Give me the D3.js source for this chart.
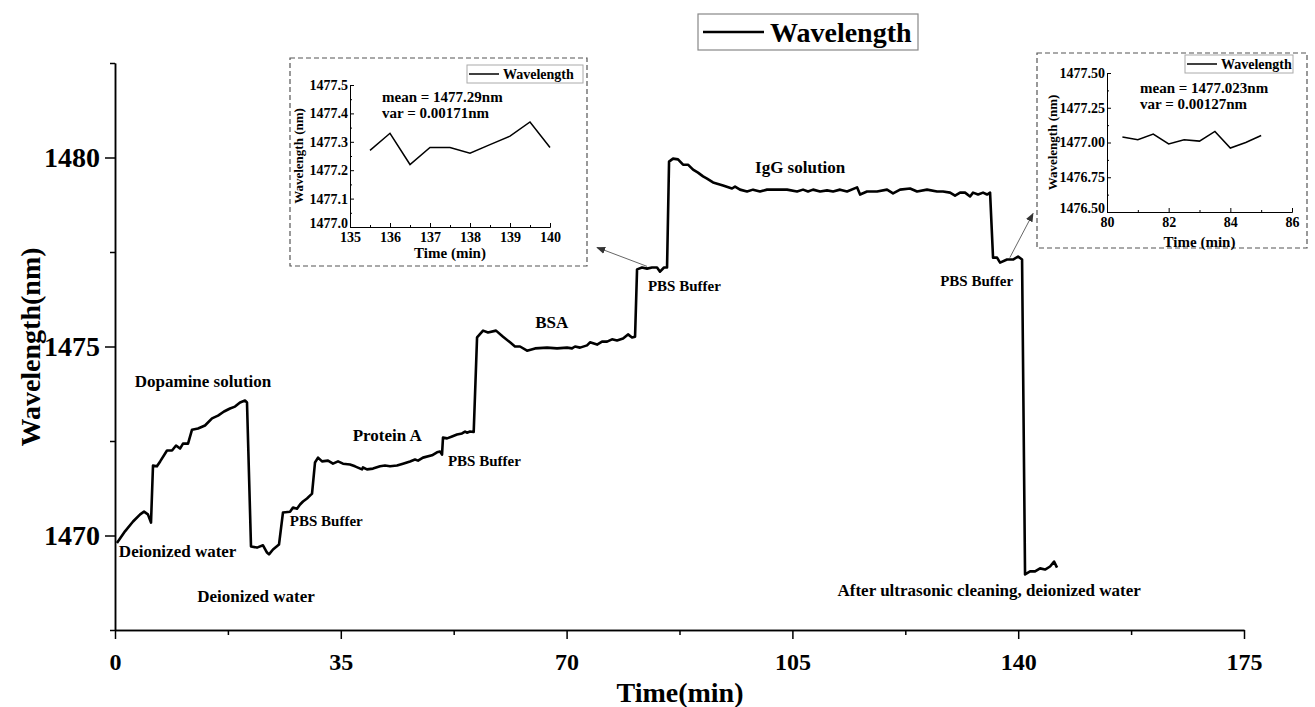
<!DOCTYPE html>
<html>
<head>
<meta charset="utf-8">
<script src="https://cdn.jsdelivr.net/npm/d3@7"></script>
<style>
body { margin: 0; background: #fff; }
text { font-family: "Liberation Serif", "Times New Roman", serif; font-weight: bold; fill: #000; }
</style>
</head>
<body>
<svg id="chart" width="1315" height="707"></svg>
<script>
// main trace: [time (min), wavelength (nm)]
var mainSeries = [
  [0.3,1469.80],[1.55,1470.11],[2.8,1470.37],[3.9,1470.56],[4.5,1470.63],[5.1,1470.56],[5.58,1470.34],
  [5.89,1471.85],[6.5,1471.83],[7.0,1471.96],[8.06,1472.25],[8.84,1472.25],[9.46,1472.38],[10.08,1472.30],
  [10.54,1472.43],[11.32,1472.43],[11.94,1472.80],[12.87,1472.83],[13.95,1472.91],[15.04,1473.10],
  [15.97,1473.17],[16.9,1473.28],[17.83,1473.36],[18.6,1473.41],[19.38,1473.52],[20.15,1473.57],[20.46,1473.52],
  [21.08,1469.71],[22.01,1469.68],[22.94,1469.74],[23.56,1469.55],[23.87,1469.50],[24.49,1469.63],[25.42,1469.76],
  [26.04,1470.61],[27.13,1470.63],[27.59,1470.74],[28.21,1470.71],[28.68,1470.82],[29.14,1470.90],[29.76,1470.98],
  [30.38,1471.08],[30.54,1471.11],[31.0,1471.93],[31.47,1472.06],[32.09,1471.96],[33.02,1471.98],[33.79,1471.90],
  [34.57,1471.96],[35.34,1471.90],[36.43,1471.88],[37.2,1471.83],[38.29,1471.75],[38.44,1471.80],[39.06,1471.75],
  [39.99,1471.77],[41.08,1471.83],[41.85,1471.85],[42.63,1471.83],[43.71,1471.85],[44.64,1471.90],[45.73,1471.96],
  [46.5,1472.01],[46.97,1471.98],[47.74,1472.06],[49.14,1472.12],[49.91,1472.20],[50.38,1472.22],[50.69,1472.14],
  [50.84,1472.59],[51.47,1472.57],[52.24,1472.62],[53.01,1472.67],[53.79,1472.70],[54.26,1472.75],[54.56,1472.72],
  [55.03,1472.75],[55.6,1472.74],[56.12,1475.24],[57.05,1475.42],[57.82,1475.37],[59.06,1475.42],[60.15,1475.26],
  [61.23,1475.11],[62.0,1475.00],[62.78,1475.00],[63.87,1474.89],[65.11,1474.95],[66.97,1474.97],[68.52,1474.95],
  [70.07,1474.97],[70.84,1474.95],[71.31,1475.00],[72.08,1474.97],[73.17,1475.03],[73.63,1475.11],[74.72,1475.05],
  [75.49,1475.13],[76.27,1475.13],[77.04,1475.19],[77.82,1475.16],[78.75,1475.21],[79.52,1475.32],[80.14,1475.24],
  [80.61,1475.26],[80.92,1477.04],[81.69,1477.09],[82.47,1477.06],[83.24,1477.09],[84.02,1477.09],[84.48,1476.98],
  [85.1,1477.09],[85.57,1477.09],[85.88,1479.89],[86.5,1479.97],[87.27,1479.95],[88.05,1479.81],[88.82,1479.81],
  [89.6,1479.68],[90.37,1479.60],[91.15,1479.50],[91.77,1479.44],[92.7,1479.34],[94.25,1479.26],[95.64,1479.18],
  [96.11,1479.23],[96.88,1479.15],[97.97,1479.10],[98.9,1479.15],[99.98,1479.10],[101.07,1479.15],[102.62,1479.15],
  [104.17,1479.15],[105.72,1479.10],[106.65,1479.15],[107.42,1479.10],[108.2,1479.15],[109.29,1479.10],
  [110.37,1479.13],[111.3,1479.10],[112.39,1479.15],[113.47,1479.10],[115.02,1479.21],[115.49,1479.02],
  [116.57,1479.10],[118.12,1479.10],[119.67,1479.15],[120.6,1479.05],[121.69,1479.15],[123.24,1479.18],
  [124.32,1479.10],[125.87,1479.15],[127.42,1479.10],[128.35,1479.10],[129.44,1479.07],[130.21,1478.99],
  [130.99,1479.07],[131.76,1479.07],[132.54,1478.97],[133.0,1479.07],[133.78,1479.02],[134.55,1479.07],
  [135.17,1479.02],[135.64,1479.07],[136.1,1477.35],[136.72,1477.35],[137.19,1477.22],[138.27,1477.30],
  [139.2,1477.30],[139.98,1477.38],[140.6,1477.30],[141.06,1468.97],[141.84,1469.05],[142.61,1469.05],
  [143.39,1469.13],[144.16,1469.10],[144.94,1469.18],[145.56,1469.31],[146.02,1469.15]
];

var xTicks = [0, 35, 70, 105, 140, 175];
var xMinor = [17.5, 52.5, 87.5, 122.5, 157.5];
var yTicks = [1470, 1475, 1480];
var yMinor = [1467.5, 1472.5, 1477.5, 1482.5];

// stage labels, placed in data units
var stageLabels = [
  {t: 13.64, wl: 1473.92, text: "Dopamine solution", size: 17, anchor: "middle"},
  {t: 0.6, wl: 1469.44, text: "Deionized water", size: 17, anchor: "start"},
  {t: 21.86, wl: 1468.23, text: "Deionized water", size: 17, anchor: "middle"},
  {t: 27.1, wl: 1470.26, text: "PBS Buffer", size: 15, anchor: "start"},
  {t: 42.2, wl: 1472.51, text: "Protein A", size: 17, anchor: "middle"},
  {t: 51.6, wl: 1471.85, text: "PBS Buffer", size: 15, anchor: "start"},
  {t: 67.7, wl: 1475.48, text: "BSA", size: 17, anchor: "middle"},
  {t: 82.6, wl: 1476.46, text: "PBS Buffer", size: 15, anchor: "start"},
  {t: 106.2, wl: 1479.60, text: "IgG solution", size: 17, anchor: "middle"},
  {t: 127.9, wl: 1476.59, text: "PBS Buffer", size: 15, anchor: "start"},
  {t: 135.5, wl: 1468.39, text: "After ultrasonic cleaning, deionized water", size: 17, anchor: "middle"}
];

var arrows = [
  {from: [82.47, 1477.12], to: [74.72, 1477.62]},
  {from: [138.7, 1477.35], to: [142.3, 1478.52]}
];

// inset data
var inset1Time = [135.5, 136, 136.5, 137, 137.5, 138, 138.5, 139, 139.5, 140];
var inset1Wl = [1477.27, 1477.33, 1477.22, 1477.28, 1477.28, 1477.26, 1477.29, 1477.32, 1477.37, 1477.28];
var inset1XTicks = [135, 136, 137, 138, 139, 140];
var inset1YTicks = [1477.0, 1477.1, 1477.2, 1477.3, 1477.4, 1477.5];

var inset2Time = [80.5, 81, 81.5, 82, 82.5, 83, 83.5, 84, 84.5, 85];
var inset2Wl = [1477.04, 1477.02, 1477.06, 1476.99, 1477.02, 1477.01, 1477.08, 1476.96, 1477.00, 1477.05];
var inset2XTicks = [80, 82, 84, 86];
var inset2YTicks = [1476.50, 1476.75, 1477.00, 1477.25, 1477.50];

var svg = d3.select("#chart");
svg.append("rect").attr("width", 1315).attr("height", 707).attr("fill", "#fff");

var x = d3.scaleLinear().domain([0, 175]).range([115, 1244]),
    y = d3.scaleLinear().domain([1467.5, 1482.5]).range([630, 63]);

svg.append("defs").append("marker")
    .attr("id", "head")
    .attr("viewBox", "0 0 10 10")
    .attr("refX", 9).attr("refY", 5)
    .attr("markerWidth", 9).attr("markerHeight", 9)
    .attr("markerUnits", "userSpaceOnUse")
    .attr("orient", "auto")
  .append("path")
    .attr("d", "M0,1L10,5L0,9z")
    .attr("fill", "#333");

function styleAxis(g, w) {
  g.selectAll("path, line").attr("stroke", "#000").attr("stroke-width", w);
  g.selectAll("text").attr("fill", "#000");
}

// x axis
var gx = svg.append("g")
    .attr("transform", "translate(0,630)")
    .call(d3.axisBottom(x).tickValues(xTicks).tickSize(9).tickSizeOuter(0).tickPadding(14)
      .tickFormat(d3.format("d")));
gx.selectAll("text").style("font-size", "24px").attr("font-family", null);
svg.append("g")
    .attr("transform", "translate(0,630)")
    .call(d3.axisBottom(x).tickValues(xMinor).tickSize(5).tickSizeOuter(0).tickFormat(""))
    .call(styleAxis, 1.5);
styleAxis(gx, 1.5);

// y axis
var gy = svg.append("g")
    .attr("transform", "translate(115,0)")
    .call(d3.axisLeft(y).tickValues(yTicks).tickSize(10).tickSizeOuter(0).tickPadding(5)
      .tickFormat(d3.format("d")));
gy.selectAll("text").style("font-size", "28px").attr("font-family", null);
svg.append("g")
    .attr("transform", "translate(115,0)")
    .call(d3.axisLeft(y).tickValues(yMinor).tickSize(5).tickSizeOuter(0).tickFormat(""))
    .call(styleAxis, 1.5);
styleAxis(gy, 1.5);

svg.append("text")
    .attr("x", 680).attr("y", 702)
    .attr("text-anchor", "middle")
    .style("font-size", "28px")
    .text("Time(min)");

svg.append("text")
    .attr("transform", "translate(40,347) rotate(-90)")
    .attr("text-anchor", "middle")
    .style("font-size", "28px")
    .text("Wavelength(nm)");

// main trace
var line = d3.line()
    .x(function(d) { return x(d[0]); })
    .y(function(d) { return y(d[1]); });

svg.append("path")
    .datum(mainSeries)
    .attr("d", line)
    .attr("fill", "none")
    .attr("stroke", "#000")
    .attr("stroke-width", 2.6)
    .attr("stroke-linejoin", "round");

svg.selectAll(".stage")
    .data(stageLabels)
  .enter().append("text")
    .attr("class", "stage")
    .attr("x", function(d) { return x(d.t); })
    .attr("y", function(d) { return y(d.wl); })
    .attr("text-anchor", function(d) { return d.anchor; })
    .style("font-size", function(d) { return d.size + "px"; })
    .text(function(d) { return d.text; });

svg.selectAll(".arrow")
    .data(arrows)
  .enter().append("line")
    .attr("class", "arrow")
    .attr("x1", function(d) { return x(d.from[0]); })
    .attr("y1", function(d) { return y(d.from[1]); })
    .attr("x2", function(d) { return x(d.to[0]); })
    .attr("y2", function(d) { return y(d.to[1]); })
    .attr("stroke", "#555")
    .attr("stroke-width", 0.9)
    .attr("marker-end", "url(#head)");

// legend
svg.append("rect")
    .attr("x", 698).attr("y", 14).attr("width", 220).attr("height", 36)
    .attr("fill", "#fff").attr("stroke", "#888").attr("stroke-width", 1.2);
svg.append("line")
    .attr("x1", 703).attr("x2", 764).attr("y1", 32).attr("y2", 32)
    .attr("stroke", "#000").attr("stroke-width", 2.6);
svg.append("text")
    .attr("x", 770).attr("y", 42)
    .style("font-size", "28px")
    .text("Wavelength");

// insets
function drawInset(o) {
  var g = svg.append("g");
  g.append("rect")
      .attr("x", o.box[0]).attr("y", o.box[1]).attr("width", o.box[2]).attr("height", o.box[3])
      .attr("fill", "#fff").attr("stroke", "#555").attr("stroke-width", 1.2)
      .attr("stroke-dasharray", "5,3");

  var ix = d3.scaleLinear().domain(o.xDomain).range(o.xRange),
      iy = d3.scaleLinear().domain(o.yDomain).range(o.yRange);

  var ax = g.append("g")
      .attr("transform", "translate(0," + o.yRange[0] + ")")
      .call(d3.axisBottom(ix).tickValues(o.xTicks).tickSize(-4).tickSizeOuter(0).tickPadding(5)
        .tickFormat(d3.format("d")));
  g.append("g")
      .attr("transform", "translate(0," + o.yRange[0] + ")")
      .call(d3.axisBottom(ix).tickValues(o.xMinor).tickSize(-2).tickSizeOuter(0).tickFormat(""))
      .call(styleAxis, 1);
  var ay = g.append("g")
      .attr("transform", "translate(" + o.xRange[0] + ",0)")
      .call(d3.axisLeft(iy).tickValues(o.yTicks).tickSize(-4).tickSizeOuter(0).tickPadding(2)
        .tickFormat(d3.format(o.yFormat)));
  g.append("g")
      .attr("transform", "translate(" + o.xRange[0] + ",0)")
      .call(d3.axisLeft(iy).tickValues(o.yMinor).tickSize(-2).tickSizeOuter(0).tickFormat(""))
      .call(styleAxis, 1);
  [ax, ay].forEach(function(a) {
    a.selectAll("text").style("font-size", "14px").attr("font-family", null);
    styleAxis(a, 1);
  });
  // lowest y label sits just above the x labels
  ay.selectAll(".tick text").filter(function(d) { return d === o.yDomain[0]; })
      .attr("dy", "0.05em");

  var il = d3.line()
      .x(function(d, i) { return ix(o.time[i]); })
      .y(function(d) { return iy(d); });
  g.append("path")
      .datum(o.wl)
      .attr("d", il)
      .attr("fill", "none").attr("stroke", "#000").attr("stroke-width", 1.5);

  g.append("rect")
      .attr("x", o.legend[0]).attr("y", o.legend[1]).attr("width", o.legend[2]).attr("height", 18)
      .attr("fill", "#fff").attr("stroke", "#aaa").attr("stroke-width", 1);
  g.append("line")
      .attr("x1", o.legend[0] + 2).attr("x2", o.legend[0] + 32)
      .attr("y1", o.legend[1] + 9).attr("y2", o.legend[1] + 9)
      .attr("stroke", "#000").attr("stroke-width", 1.5);
  g.append("text")
      .attr("x", o.legend[0] + 36).attr("y", o.legend[1] + 14)
      .style("font-size", "14px")
      .text("Wavelength");

  o.stats.forEach(function(s, i) {
    g.append("text")
        .attr("x", o.statsPos[0]).attr("y", o.statsPos[1] + i * 16)
        .style("font-size", "15px")
        .text(s);
  });

  g.append("text")
      .attr("x", (o.xRange[0] + o.xRange[1]) / 2).attr("y", o.xTitleY)
      .attr("text-anchor", "middle")
      .style("font-size", "15px")
      .text("Time (min)");
  g.append("text")
      .attr("transform", "translate(" + o.yTitleX + "," + (o.yRange[0] + o.yRange[1]) / 2 + ") rotate(-90)")
      .attr("text-anchor", "middle")
      .style("font-size", "13px")
      .text("Wavelength (nm)");
}

drawInset({
  box: [290, 58, 297, 208],
  xDomain: [135, 140], xRange: [350, 550],
  yDomain: [1477.0, 1477.5], yRange: [227, 85],
  xTicks: inset1XTicks, xMinor: [135.5, 136.5, 137.5, 138.5, 139.5],
  yTicks: inset1YTicks, yMinor: [1477.05, 1477.15, 1477.25, 1477.35, 1477.45],
  yFormat: ".1f",
  time: inset1Time, wl: inset1Wl,
  legend: [467, 65, 116],
  stats: ["mean = 1477.29nm", "var = 0.00171nm"], statsPos: [382, 102],
  xTitleY: 258, yTitleX: 303
});

drawInset({
  box: [1037, 53, 270, 195],
  xDomain: [80, 86], xRange: [1107, 1292],
  yDomain: [1476.5, 1477.5], yRange: [212, 73],
  xTicks: inset2XTicks, xMinor: [81, 83, 85],
  yTicks: inset2YTicks, yMinor: [1476.625, 1476.875, 1477.125, 1477.375],
  yFormat: ".2f",
  time: inset2Time, wl: inset2Wl,
  legend: [1185, 55, 108],
  stats: ["mean = 1477.023nm", "var = 0.00127nm"], statsPos: [1140, 93],
  xTitleY: 247, yTitleX: 1057
});
</script>
</body>
</html>
